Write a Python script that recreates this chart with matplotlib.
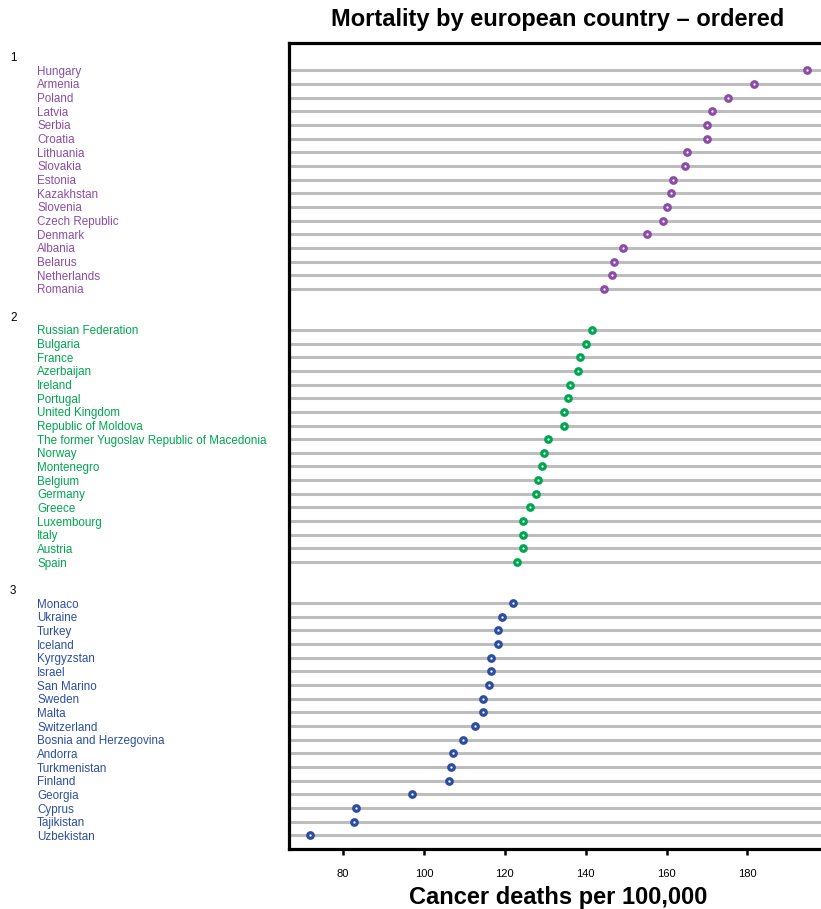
import matplotlib
matplotlib.use("Agg")
import matplotlib.pyplot as plt
import matplotlib.transforms as mtransforms

plt.rcParams["font.family"] = ["Liberation Sans", "DejaVu Sans"]

# Cancer deaths per 100,000, grouped into three clusters and ordered within each
group1_countries = ["Hungary", "Armenia", "Poland", "Latvia", "Serbia", "Croatia",
                    "Lithuania", "Slovakia", "Estonia", "Kazakhstan", "Slovenia",
                    "Czech Republic", "Denmark", "Albania", "Belarus", "Netherlands",
                    "Romania"]
group1_values = [194.6, 181.6, 175.1, 171.2, 170.1, 170.1, 165.1, 164.6, 161.6,
                 161.1, 160.1, 159.1, 155.1, 149.1, 147.1, 146.6, 144.6]

group2_countries = ["Russian Federation", "Bulgaria", "France", "Azerbaijan", "Ireland",
                    "Portugal", "United Kingdom", "Republic of Moldova",
                    "The former Yugoslav Republic of Macedonia", "Norway", "Montenegro",
                    "Belgium", "Germany", "Greece", "Luxembourg", "Italy", "Austria",
                    "Spain"]
group2_values = [141.6, 140.1, 138.6, 138.1, 136.1, 135.7, 134.7, 134.7, 130.7,
                 129.6, 129.1, 128.2, 127.7, 126.2, 124.6, 124.6, 124.6, 123.1]

group3_countries = ["Monaco", "Ukraine", "Turkey", "Iceland", "Kyrgyzstan", "Israel",
                    "San Marino", "Sweden", "Malta", "Switzerland",
                    "Bosnia and Herzegovina", "Andorra", "Turkmenistan", "Finland",
                    "Georgia", "Cyprus", "Tajikistan", "Uzbekistan"]
group3_values = [122.1, 119.2, 118.2, 118.2, 116.6, 116.6, 116.1, 114.6, 114.6,
                 112.6, 109.6, 107.1, 106.6, 106.1, 97.1, 83.2, 82.7, 71.8]

group_names = ["1", "2", "3"]
group_colors = ["#8B4DA6", "#00A651", "#2D4EA0"]

x_ticks = [80, 100, 120, 140, 160, 180]

groups = [
    (group1_countries, group1_values),
    (group2_countries, group2_values),
    (group3_countries, group3_values),
]

fig = plt.figure(figsize=(8.21, 9.09), dpi=100)
ax = fig.add_axes([289 / 821, 1 - 849 / 909, (827 - 289) / 821, (849 - 43) / 909])

label_tf = mtransforms.blended_transform_factory(fig.transFigure, ax.transData)

row = 0
for gi, (countries, values) in enumerate(groups):
    color = group_colors[gi]
    fig.text(10 / 821, row, group_names[gi], transform=label_tf, ha="left",
             va="center_baseline", fontsize=8.4, color="black")
    row += 1
    for name, val in zip(countries, values):
        ax.axhline(row, color="#bdbdbd", lw=2.2, zorder=1)
        ax.plot([val], [row], marker="o", ms=4.0, mew=2.3, mfc="white",
                mec=color, ls="none", zorder=3)
        fig.text(37 / 821, row, name, transform=label_tf, ha="left",
                 va="center_baseline", fontsize=8.4, color=color)
        row += 1
    row += 1  # spacer between groups

n_rows = row - 1
ax.set_ylim(n_rows, -1)
ax.set_xlim(66.6, 66.6 + (827 - 289) / 4.043)

ax.set_yticks([])
ax.set_xticks(x_ticks)
ax.tick_params(axis="x", direction="out", length=4.5, width=1.8, pad=10,
               labelsize=8, color="black")

for side in ["left", "bottom", "top"]:
    ax.spines[side].set_linewidth(2.3)
    ax.spines[side].set_color("black")
ax.spines["right"].set_visible(False)

ax.set_xlabel("Cancer deaths per 100,000", fontsize=17, fontweight="bold", labelpad=5)
ax.set_title("Mortality by european country \u2013 ordered", fontsize=17,
             fontweight="bold", pad=12)

fig.savefig("out.png", dpi=100)
